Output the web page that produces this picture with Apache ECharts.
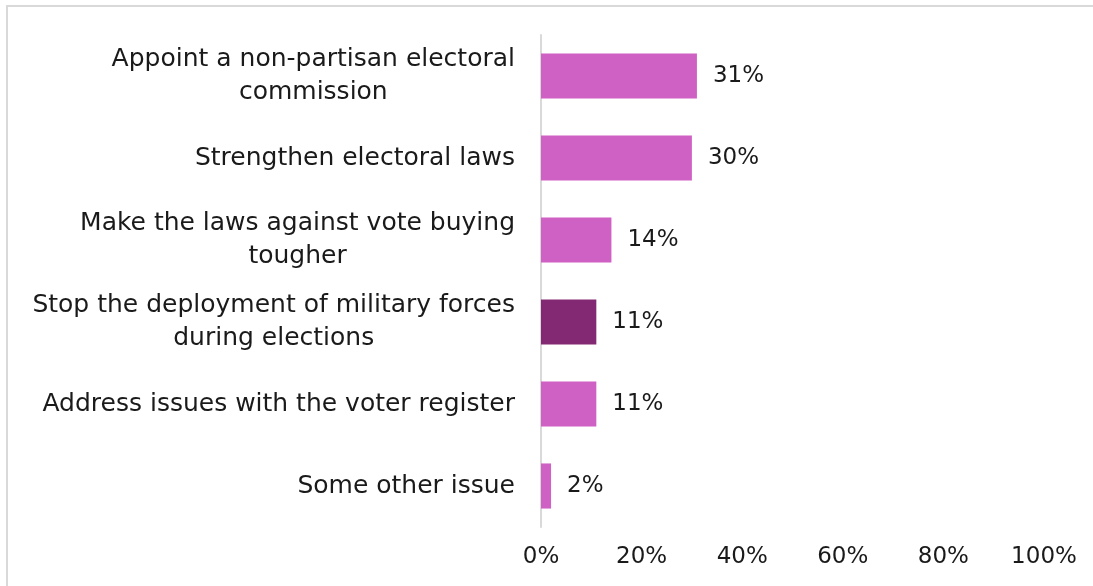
<!DOCTYPE html>
<html>
<head>
<meta charset="utf-8">
<title>Electoral reform priorities</title>
<script src="https://cdn.jsdelivr.net/npm/echarts@6/dist/echarts.min.js"></script>
<style>
  html, body { margin: 0; padding: 0; background: #ffffff; }
  #chart { width: 1093px; height: 586px; }
</style>
</head>
<body>
<div id="chart"></div>
<script>
// Reform options, top to bottom
const categories = [
  'Appoint a non-partisan electoral\ncommission',
  'Strengthen electoral laws',
  'Make the laws against vote buying\ntougher',
  'Stop the deployment of military forces\nduring elections',
  'Address issues with the voter register',
  'Some other issue'
];
// Share of respondents (%)
const shares = [31, 30, 14, 11, 11, 2];
// Option drawn in the accent colour
const highlighted = [false, false, false, true, false, false];
// Value axis ticks (%)
const xTicks = [0, 20, 40, 60, 80, 100];

const PINK = '#D061C4';
const PLUM = '#832873';
const TEXT = '#1a1a1a';
const FONT = 'DejaVu Sans';

const chart = echarts.init(document.getElementById('chart'), null, { renderer: 'canvas' });

chart.setOption({
  backgroundColor: '#ffffff',
  animation: false,
  graphic: [{
    type: 'rect',
    shape: { x: 7, y: 6, width: 1200, height: 700 },
    style: { fill: 'none', stroke: '#d9d9d9', lineWidth: 2 },
    silent: true,
    z: -10
  }],
  grid: { left: 541, right: 49, top: 35, bottom: 59, containLabel: false },
  xAxis: {
    type: 'value',
    min: xTicks[0],
    max: xTicks[xTicks.length - 1],
    interval: xTicks[1] - xTicks[0],
    axisLine: { show: false },
    axisTick: { show: false },
    splitLine: { show: false },
    axisLabel: {
      formatter: v => v + '%',
      color: TEXT,
      fontFamily: FONT,
      fontSize: 23,
      margin: 19
    }
  },
  yAxis: {
    type: 'category',
    inverse: true,
    data: categories,
    axisLine: { show: true, lineStyle: { color: '#d9d9d9', width: 2 } },
    axisTick: { show: false },
    splitLine: { show: false },
    axisLabel: {
      margin: 26,
      formatter: v => v.split('\n').map(l => '{c|' + l + '}').join('\n'),
      rich: {
        c: {
          align: 'center',
          color: TEXT,
          fontFamily: FONT,
          fontSize: 25,
          lineHeight: 33
        }
      }
    }
  },
  series: [{
    type: 'bar',
    data: shares.map((v, i) => ({
      value: v,
      itemStyle: { color: highlighted[i] ? PLUM : PINK }
    })),
    barCategoryGap: '45%',
    label: {
      show: true,
      position: 'right',
      distance: 16,
      formatter: p => p.value + '%',
      color: TEXT,
      fontFamily: FONT,
      fontSize: 23
    }
  }]
});
</script>
</body>
</html>
